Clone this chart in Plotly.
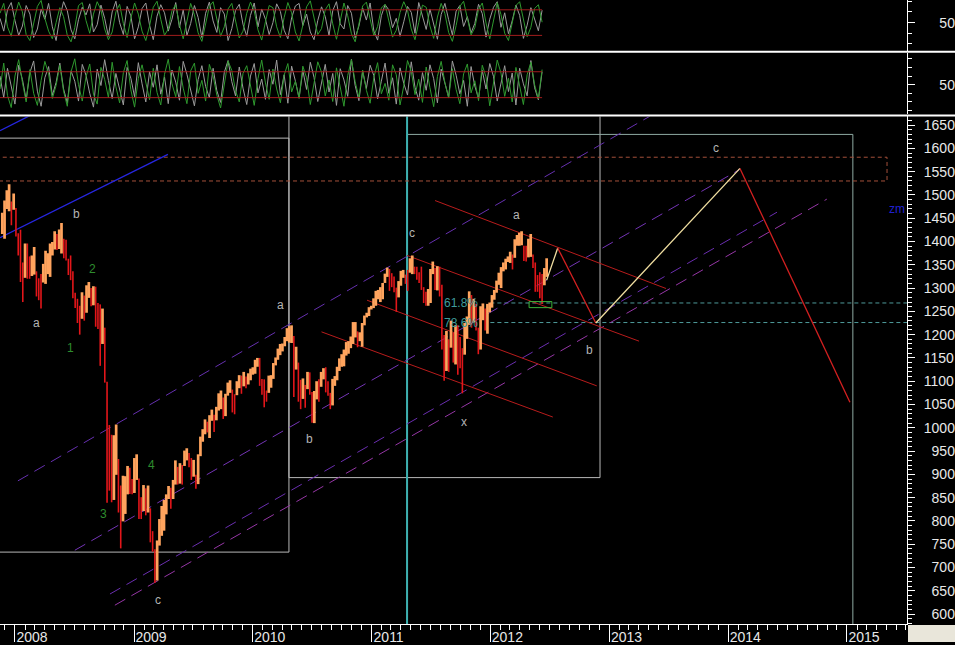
import plotly.graph_objects as go
import pandas as pd

# ---------------- price data (weekly low / high) ----------------
price_week_start = "2007-11-23"
price_low = [
    1416, 1406, 1470, 1465, 1435, 1468,
    1411, 1370, 1313, 1270, 1322, 1320, 1320, 1326, 1329, 1282, 1274, 1256, 1312, 1309, 1330, 1324, 1370, 1383,
    1382, 1384, 1374, 1364, 1359, 1328, 1317, 1278, 1257, 1225, 1200, 1234, 1230, 1247, 1279, 1261, 1263, 1217,
    1212, 1133, 1180, 1097, 839, 865, 840, 845, 899, 818, 741, 799, 815, 857, 858, 857,
    860, 888, 804, 804, 821, 812, 818, 754, 734, 667, 672, 747, 768, 779, 814, 847, 826, 847, 878, 878, 880,
    878, 918, 930, 915, 888, 895, 869, 879, 939, 970, 986, 990, 978, 1015, 991, 1016, 1037, 1040, 1019, 1025,
    1069, 1075, 1033, 1029, 1070, 1085, 1073, 1089, 1085, 1093, 1102, 1114,
    1116, 1131, 1090, 1071, 1044, 1056, 1075, 1086, 1105, 1134, 1146, 1156, 1164, 1175, 1186, 1183, 1182, 1066,
    1125, 1056, 1040, 1062, 1043, 1083, 1071, 1011, 1010, 1061, 1056, 1088, 1104, 1076, 1069, 1040, 1048, 1090,
    1102, 1122, 1131, 1132, 1155, 1159, 1171, 1180, 1194, 1173, 1186, 1174, 1220, 1237, 1240, 1254,
    1257, 1262, 1276, 1270, 1276, 1311, 1324, 1294, 1302, 1291, 1249, 1280, 1305, 1322, 1309, 1294, 1333, 1330,
    1330, 1318, 1311, 1296, 1268, 1262, 1262, 1268, 1330, 1296, 1295, 1282, 1168, 1101, 1122, 1120, 1172, 1140,
    1136, 1114, 1128, 1074, 1157, 1191, 1221, 1215, 1226, 1209, 1158, 1168, 1231, 1209, 1202, 1248,
    1258, 1275, 1290, 1307, 1300, 1336, 1340, 1356, 1354, 1340, 1365, 1391, 1391, 1392, 1358, 1357, 1366, 1367,
    1343, 1292, 1292, 1278, 1266, 1306, 1324,
]
price_high = [
    1462, 1488, 1510, 1523, 1486, 1503,
    1472, 1418, 1425, 1355, 1396, 1396, 1368, 1370, 1388, 1336, 1321, 1330, 1352, 1380, 1375, 1396, 1399, 1422,
    1416, 1426, 1440, 1406, 1404, 1363, 1370, 1336, 1290, 1277, 1262, 1291, 1284, 1306, 1313, 1300, 1304, 1303,
    1268, 1265, 1256, 1215, 1099, 1006, 985, 984, 1007, 933, 876, 897, 896, 918, 914, 890,
    935, 943, 891, 851, 877, 870, 876, 827, 778, 739, 758, 804, 832, 845, 857, 875, 871, 888, 930, 916, 924,
    920, 951, 956, 946, 935, 931, 899, 943, 981, 997, 1018, 1013, 1027, 1039, 1028, 1045, 1074, 1080, 1065, 1073,
    1097, 1102, 1082, 1072, 1100, 1113, 1112, 1120, 1110, 1117, 1127, 1130,
    1146, 1150, 1150, 1105, 1104, 1080, 1112, 1113, 1139, 1151, 1170, 1180, 1181, 1195, 1214, 1218, 1220, 1197,
    1174, 1140, 1103, 1106, 1092, 1120, 1119, 1077, 1079, 1100, 1104, 1120, 1128, 1130, 1100, 1075, 1105, 1111,
    1131, 1149, 1158, 1168, 1184, 1186, 1196, 1227, 1227, 1207, 1205, 1225, 1241, 1247, 1259, 1262,
    1278, 1294, 1296, 1302, 1311, 1331, 1344, 1341, 1332, 1325, 1301, 1315, 1337, 1339, 1329, 1339, 1364, 1370,
    1346, 1346, 1334, 1346, 1302, 1292, 1298, 1341, 1357, 1343, 1347, 1346, 1307, 1199, 1208, 1190, 1230, 1204,
    1220, 1220, 1195, 1171, 1225, 1239, 1293, 1285, 1277, 1266, 1215, 1261, 1267, 1256, 1266, 1269,
    1285, 1296, 1316, 1333, 1345, 1355, 1363, 1368, 1378, 1372, 1405, 1414, 1419, 1422, 1391, 1391, 1406, 1416,
    1372, 1355, 1328, 1334, 1330, 1343, 1364,
]

# ---------------- oscillator panels ----------------
osc_start, osc_end = "2007-11-16", "2012-06-08"
osc_levels = [80, 20]
osc1_green = [72, 95, 40, 18, 66, 98, 75, 22, 8, 45, 88, 102, 60, 30, 12, 50, 85, 64, 20, 5, 38, 90, 97, 55, 25,
              70, 99, 80, 35, 10, 28, 75, 93, 48, 15, 60, 96, 70, 30, 8, 42, 86, 100, 58, 20, 35, 78, 92, 45, 12,
              55, 95, 68, 26, 6, 48, 88, 99, 62, 18, 40, 82, 95, 50, 14, 30, 72, 98, 77, 33, 9, 52, 90, 85, 40, 15,
              62, 97, 73, 28, 7, 44, 87, 101, 59, 22, 36, 80, 94, 47, 11, 57, 96, 66, 24, 5, 46, 89, 98, 60, 19, 41,
              84, 93, 52, 16, 32, 74, 99, 79, 35, 10, 50, 91, 86, 42, 13, 63, 95, 71, 27, 6, 43, 88, 100, 57, 21,
              38, 81, 96, 49, 12, 58, 97, 69, 25, 8, 47, 90, 99, 61, 17, 39, 83, 92, 51]
osc1_grey = [60, 30, 80, 97, 55, 20, 42, 90, 70, 15, 35, 82, 58, 95, 40, 8, 62, 99, 78, 33, 12, 57, 86, 68, 94, 28,
             45, 91, 60, 18, 75, 100, 50, 22, 88, 66, 12, 40, 83, 96, 44, 10, 65, 92, 73, 30, 58, 97, 38, 80, 20,
             48, 90, 62, 15, 72, 98, 54, 27, 85, 70, 8, 36, 79, 93, 46, 18, 67, 96, 40, 82, 58, 22, 50, 94, 76, 32,
             12, 61, 89, 95, 43, 70, 28, 10, 55, 87, 64, 20, 78, 99, 47, 35, 90, 72, 14, 42, 84, 56, 96, 30, 9, 66,
             92, 80, 38, 60, 18, 52, 88, 74, 25, 97, 63, 34, 82, 45, 11, 69, 95, 57, 21, 77, 90, 41, 64, 26, 48,
             93, 71, 16, 58, 86, 99, 39, 73, 24, 54, 91, 67, 13, 44, 85, 60, 31, 79]
osc2_green = [40, 100, 25, -3, 70, 108, 55, 10, 85, 30, 2, 60, 104, 75, 18, 48, 95, 35, 0, 80, 110, 50, 12, 68, 98,
              28, 5, 90, 62, 20, 102, 45, 8, 78, 106, 38, -2, 65, 96, 58, 15, 88, 32, 3, 74, 109, 52, 22, 92, 42,
              6, 82, 100, 30, 60, 12, 97, 70, 26, -4, 56, 105, 83, 36, 10, 76, 94, 46, 2, 64, 107, 54, 16, 86, 40,
              8, 72, 99, 33, 58, 18, 93, 66, 4, 49, 103, 79, 24, 61, 11, 89, 44, 0, 71, 108, 57, 20, 84, 37, 7, 67,
              101, 29, 53, 14, 96, 73, 3, 47, 106, 81, 27, 63, 9, 91, 43, -1, 69, 104, 55, 19, 87, 39, 6, 75, 98,
              31, 59, 13, 95, 68, 1, 51, 107, 77, 23, 65, 10, 90, 45, 4, 73, 102, 50, 17, 85]
osc2_grey = [70, 20, 88, 50, 5, 95, 62, 15, 78, 105, 35, 0, 66, 92, 25, 55, 100, 40, 8, 82, 58, 12, 97, 72, 30, -2,
             86, 48, 108, 60, 18, 76, 38, 3, 90, 65, 22, 101, 52, 10, 80, 44, 96, 28, 68, 6, 84, 56, 14, 104, 74,
             34, 1, 62, 94, 46, 20, 88, 36, 9, 79, 106, 57, 24, 91, 42, 4, 70, 99, 31, 63, 16, 85, 51, 107, 27, 73,
             7, 93, 59, 19, 83, 39, 102, 67, 11, 54, 97, 33, 76, 2, 87, 61, 23, 109, 48, 13, 81, 41, 95, 71, 17,
             58, 100, 30, 66, 5, 89, 53, 26, 103, 44, 14, 78, 37, 96, 64, 8, 86, 50, 21, 105, 72, 29, 60, 0, 92,
             47, 18, 83, 40, 99, 69, 12, 57, 94, 34, 77, 3, 88, 52, 24, 106, 43, 15, 80]

# ---------------- axis ticks ----------------
price_ticks = list(range(600, 1651, 50))

# ---------------- drawn analysis objects ----------------
blue_trend_x = [["2007-11-16", "2009-04-15"], ["2007-11-16", "2008-03-17"]]
blue_trend_y = [[1408, 1587], [1638, 1681]]

purple_channel_x = [["2008-01-10", "2013-05-05"], ["2008-07-03", "2014-02-06"],
                    ["2008-10-19", "2014-05-31"], ["2008-11-03", "2014-10-31"]]
purple_channel_y = [[886, 1669], [737, 1555], [643, 1463], [619, 1491]]
purple_colors = ["#6630b0", "#7434b6", "#6a2eb0", "#9636a6"]

red_channel_x = [["2011-07-15", "2013-06-24"], ["2011-04-20", "2013-04-02"],
                 ["2010-12-18", "2012-11-23"], ["2010-07-31", "2012-07-11"]]
red_channel_y = [[1488, 1299], [1370, 1186], [1274, 1090], [1206, 1023]]

projection_x = ["2012-06-22", "2012-07-26", "2012-11-20", "2014-02-06", "2015-01-10"]
projection_y = [1317, 1386, 1225, 1557, 1055]

grey_box_x = [["2007-10-01", "2010-04-22"], ["2010-04-22", "2012-12-03"]]
grey_box_y = [[733, 1622], [893, 1700]]
green_grey_box_x = ["2011-04-20", "2015-01-19"]
green_grey_box_y = [500, 1630]
cyan_line_date = "2011-04-20"

target_zone_x = ["2007-10-01", "2015-05-04"]
target_zone_y = [1530, 1581]

fib_start, fib_end = "2012-01-01", "2015-08-01"
fib_levels = [1268, 1226]
fib_labels = ["61.8%", "78.6%"]
fib_label_date = "2011-11-29"

support_box_x = ["2012-04-29", "2012-07-08"]
support_box_y = [1258, 1271]

wave_label_text = ["b", "a", "2", "1", "3", "4", "c", "a", "b", "c", "x", "a", "b", "c"]
wave_label_date = ["2008-07-09", "2008-03-07", "2008-08-25", "2008-06-20", "2008-09-28", "2009-02-24",
                   "2009-03-15", "2010-03-27", "2010-06-23", "2011-05-05", "2011-10-12", "2012-03-22",
                   "2012-11-02", "2013-11-24"]
wave_label_value = [1459, 1224, 1340, 1171, 814, 919, 631, 1263, 975, 1419, 1013, 1457, 1167, 1600]
wave_label_kind = ["g", "g", "n", "n", "n", "n", "g", "g", "g", "g", "g", "g", "g", "g"]

# ---------------- build figure ----------------
X_RANGE = ["2007-11-16", "2015-07-04 10:00"]
fig = go.Figure()
NOHOVER = dict(hoverinfo="skip", showlegend=False)

# oscillators
for vals, ax, col in [(osc1_grey, "y3", "#9c9c9c"), (osc1_green, "y3", "#2f9a2f"),
                      (osc2_grey, "y2", "#9c9c9c"), (osc2_green, "y2", "#2f9a2f")]:
    d = pd.date_range(osc_start, osc_end, periods=len(vals))
    fig.add_trace(go.Scatter(x=d, y=vals, mode="lines", line=dict(color=col, width=1), yaxis=ax, **NOHOVER))
for ax in ["y2", "y3"]:
    for lv in osc_levels:
        fig.add_trace(go.Scatter(x=[osc_start, osc_end], y=[lv, lv], mode="lines",
                                 line=dict(color="#a01c1c", width=1), yaxis=ax, **NOHOVER))

# rectangles & zones (main panel)
for bx, by in zip(grey_box_x, grey_box_y):
    fig.add_trace(go.Scatter(x=[bx[0], bx[1], bx[1], bx[0], bx[0]], y=[by[0], by[0], by[1], by[1], by[0]],
                             mode="lines", line=dict(color="#b8b8b8", width=1), **NOHOVER))
bx, by = green_grey_box_x, green_grey_box_y
fig.add_trace(go.Scatter(x=[bx[0], bx[1], bx[1], bx[0], bx[0]], y=[by[0], by[0], by[1], by[1], by[0]],
                         mode="lines", line=dict(color="#8eaaa2", width=1), **NOHOVER))
fig.add_trace(go.Scatter(x=[cyan_line_date, cyan_line_date], y=[500, 1700], mode="lines",
                         line=dict(color="#3cb0b0", width=2), **NOHOVER))
bx, by = target_zone_x, target_zone_y
fig.add_trace(go.Scatter(x=[bx[0], bx[1], bx[1], bx[0]], y=[by[0], by[0], by[1], by[1]],
                         mode="lines", line=dict(color="#a4503a", width=1, dash="4px,3px"), **NOHOVER))
for lv in fib_levels:
    fig.add_trace(go.Scatter(x=[fib_start, fib_end], y=[lv, lv], mode="lines",
                             line=dict(color="#4e9a9a", width=1, dash="4px,3px"), **NOHOVER))

# channels
for xs, ys, c in zip(purple_channel_x, purple_channel_y, purple_colors):
    fig.add_trace(go.Scatter(x=xs, y=ys, mode="lines", line=dict(color=c, width=1, dash="12px,7px"), **NOHOVER))
for xs, ys in zip(blue_trend_x, blue_trend_y):
    fig.add_trace(go.Scatter(x=xs, y=ys, mode="lines", line=dict(color="#2626e0", width=1.3), **NOHOVER))
for xs, ys in zip(red_channel_x, red_channel_y):
    fig.add_trace(go.Scatter(x=xs, y=ys, mode="lines", line=dict(color="#b81c1c", width=1), **NOHOVER))

# price bars
price_dates = pd.date_range(price_week_start, periods=len(price_low), freq="W-FRI")
up_x, up_y, dn_x, dn_y = [], [], [], []
prev_mid = None
for d, lo, hi in zip(price_dates, price_low, price_high):
    mid = (lo + hi) / 2
    if prev_mid is not None and mid < prev_mid:
        dn_x += [d, d, None]
        dn_y += [lo, hi, None]
    else:
        up_x += [d, d, None]
        up_y += [lo, hi, None]
    prev_mid = mid
fig.add_trace(go.Scatter(x=dn_x, y=dn_y, mode="lines", line=dict(color="#e3161a", width=1.6), **NOHOVER))
fig.add_trace(go.Scatter(x=up_x, y=up_y, mode="lines", line=dict(color="#ffa45e", width=2.7), **NOHOVER))

# support box
bx, by = support_box_x, support_box_y
fig.add_trace(go.Scatter(x=[bx[0], bx[1], bx[1], bx[0], bx[0]], y=[by[0], by[0], by[1], by[1], by[0]],
                         mode="lines", line=dict(color="#3cb43c", width=1), **NOHOVER))

# projection path
seg_colors = ["#f2e0a2", "#d42020", "#f2e0a2", "#d42020"]
for i, c in enumerate(seg_colors):
    fig.add_trace(go.Scatter(x=projection_x[i:i + 2], y=projection_y[i:i + 2], mode="lines",
                             line=dict(color=c, width=1.3), **NOHOVER))

# annotations
ann = []
for t, d, v, k in zip(wave_label_text, wave_label_date, wave_label_value, wave_label_kind):
    ann.append(dict(x=d, y=v, xref="x", yref="y", text=t, showarrow=False,
                    font=dict(family="Liberation Sans, Arial", size=12,
                              color="#b4b4b4" if k == "g" else "#2e8c2e")))
for lv, lab in zip(fib_levels, fib_labels):
    ann.append(dict(x=fib_label_date, y=lv, xref="x", yref="y", text=lab, showarrow=False, xanchor="right",
                    font=dict(family="Liberation Sans, Arial", size=12, color="#3e9c9c")))
ann.append(dict(x="2015-07-03", y=1470, xref="x", yref="y", text="zm", showarrow=False, xanchor="right",
                font=dict(family="Liberation Sans, Arial", size=12, color="#2020d0")))

FS = "\u2007"
TICKFONT = dict(family="Liberation Sans Narrow, Arial Narrow, Liberation Sans, Arial", size=14, color="#e8e8e8")
H = 627.0
fig.update_layout(
    width=955, height=645, margin=dict(l=0, r=48, t=0, b=18, pad=0),
    paper_bgcolor="black", plot_bgcolor="black", showlegend=False, hovermode=False,
    annotations=ann,
    xaxis=dict(type="date", range=X_RANGE, anchor="y", showgrid=False, zeroline=False,
               showline=True, linecolor="white", linewidth=1,
               tick0="2008-01-01", dtick="M12", tickformat="%Y", ticks="outside", ticklen=17,
               tickcolor="white", tickwidth=1, ticklabelshift=17, ticklabelstandoff=-17,
               tickfont=TICKFONT,
               minor=dict(dtick="M1", ticks="outside", ticklen=5, tickcolor="white", tickwidth=1, showgrid=False)),
    yaxis=dict(domain=[0, (H - 117) / H], range=[578.6, 1668.6], side="right", anchor="x",
               showgrid=False, zeroline=False, showline=True, linecolor="white", linewidth=1,
               tickvals=price_ticks, ticktext=[(FS + str(v)) if v < 1000 else str(v) for v in price_ticks],
               ticks="outside", ticklen=7, tickcolor="white", tickwidth=1, ticklabelstandoff=6,
               tickfont=TICKFONT,
               minor=dict(dtick=10, tick0=0, ticks="outside", ticklen=4, tickcolor="white", tickwidth=1,
                          showgrid=False)),
    yaxis2=dict(domain=[(H - 115) / H, (H - 53) / H], range=[-19, 124], side="right", anchor="x",
                showgrid=False, zeroline=False, showline=True, linecolor="white", linewidth=1,
                tickvals=[50], ticktext=[FS + FS + "50"], ticks="outside", ticklen=7, tickcolor="white",
                ticklabelstandoff=6, tickfont=TICKFONT,
                minor=dict(dtick=20, tick0=10, ticks="outside", ticklen=4, tickcolor="white", showgrid=False)),
    yaxis3=dict(domain=[(H - 51) / H, 1], range=[-16, 103], side="right", anchor="x",
                showgrid=False, zeroline=False, showline=True, linecolor="white", linewidth=1,
                tickvals=[50], ticktext=[FS + FS + "50"], ticks="outside", ticklen=7, tickcolor="white",
                ticklabelstandoff=6, tickfont=TICKFONT,
                minor=dict(dtick=25, tick0=0, ticks="outside", ticklen=4, tickcolor="white", showgrid=False)),
    shapes=[
        dict(type="rect", xref="paper", yref="paper", x0=0, x1=955 / 907, y0=(H - 53) / H, y1=(H - 51) / H,
             fillcolor="white", line=dict(width=0), layer="above"),
        dict(type="rect", xref="paper", yref="paper", x0=0, x1=955 / 907, y0=(H - 117) / H, y1=(H - 115) / H,
             fillcolor="white", line=dict(width=0), layer="above"),
        dict(type="rect", xref="paper", yref="paper", x0=908 / 907, x1=955 / 907, y0=-18 / H, y1=-1 / H,
             fillcolor="#e9e6da", line=dict(width=0), layer="above"),
    ],
)
fig.write_html("out.html", config={"displayModeBar": False},
               post_script="document.body.style.margin='0';document.body.style.background='black';"
                           "document.body.style.overflow='hidden';")
